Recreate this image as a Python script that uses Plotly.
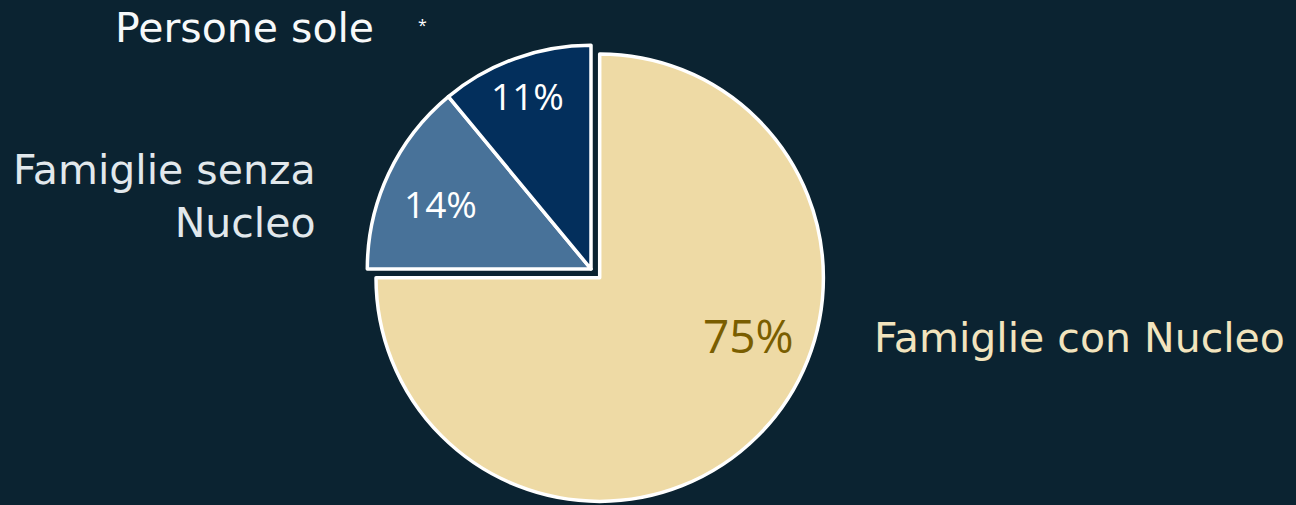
import plotly.graph_objects as go

# Data
labels = ["Famiglie con Nucleo", "Famiglie senza Nucleo", "Persone sole"]
values = [75, 14, 11]
slice_colors = ["#EEDAA5", "#487299", "#032F5C"]
pct_text_colors = ["#7A5E00", "#FFFFFF", "#FFFFFF"]
pct_text_sizes = [46, 37, 37]
label_colors = ["#F2E4BE", "#E2E8EC", "#F7F9FA"]

W, H = 1296, 505
BG = "#0B2331"
LABEL_FONT = "DejaVu Sans"
PCT_FONT = "Open Sans"

fig = go.Figure()
fig.add_trace(go.Pie(
    labels=labels,
    values=values,
    sort=False,
    direction="clockwise",
    rotation=0,
    pull=[0.055, 0, 0],
    marker=dict(colors=slice_colors, line=dict(color="white", width=3.5)),
    textinfo="none",
    showlegend=False,
    hoverinfo="label+percent",
    domain=dict(x=[354 / W, 828 / W], y=[0, (H - 33) / H]),
))

total = sum(values)
pct_text = [f"{round(100 * v / total)}%" for v in values]
# percentage label centres (px from top-left), one per slice
pct_pos = [(748, 335), (440, 203), (527, 96)]
for txt, (px, py), col, sz in zip(pct_text, pct_pos, pct_text_colors, pct_text_sizes):
    fig.add_annotation(text=txt, x=px / W, y=1 - py / H, xref="paper", yref="paper",
                       xanchor="center", yanchor="middle", showarrow=False,
                       font=dict(family=PCT_FONT, size=sz, color=col))

# category labels placed outside the pie
fig.add_annotation(text=labels[2], x=376 / W, y=1 - 28 / H, xref="paper", yref="paper",
                   xanchor="right", yanchor="middle", showarrow=False,
                   font=dict(family=LABEL_FONT, size=41, color=label_colors[2]))
fig.add_annotation(text="*", x=422 / W, y=1 - 25 / H, xref="paper", yref="paper",
                   xanchor="center", yanchor="middle", showarrow=False,
                   font=dict(family=PCT_FONT, size=16, color="#FFFFFF"))
fig.add_annotation(text=labels[1].replace("senza ", "senza<br>"), x=318 / W, y=1 - 196 / H,
                   xref="paper", yref="paper", xanchor="right", yanchor="middle", align="right",
                   showarrow=False, font=dict(family=LABEL_FONT, size=41, color=label_colors[1]))
fig.add_annotation(text=labels[0], x=872 / W, y=1 - 338 / H, xref="paper", yref="paper",
                   xanchor="left", yanchor="middle", showarrow=False,
                   font=dict(family=LABEL_FONT, size=41, color=label_colors[0]))

fig.update_layout(
    width=W, height=H,
    margin=dict(l=0, r=0, t=0, b=0),
    paper_bgcolor=BG,
    plot_bgcolor=BG,
)

fig.write_html(
    "out.html",
    config={"displayModeBar": False},
    post_script=(
        "document.body.style.margin='0';"
        f"document.body.style.background='{BG}';"
        "document.body.style.overflow='hidden';"
    ),
)
